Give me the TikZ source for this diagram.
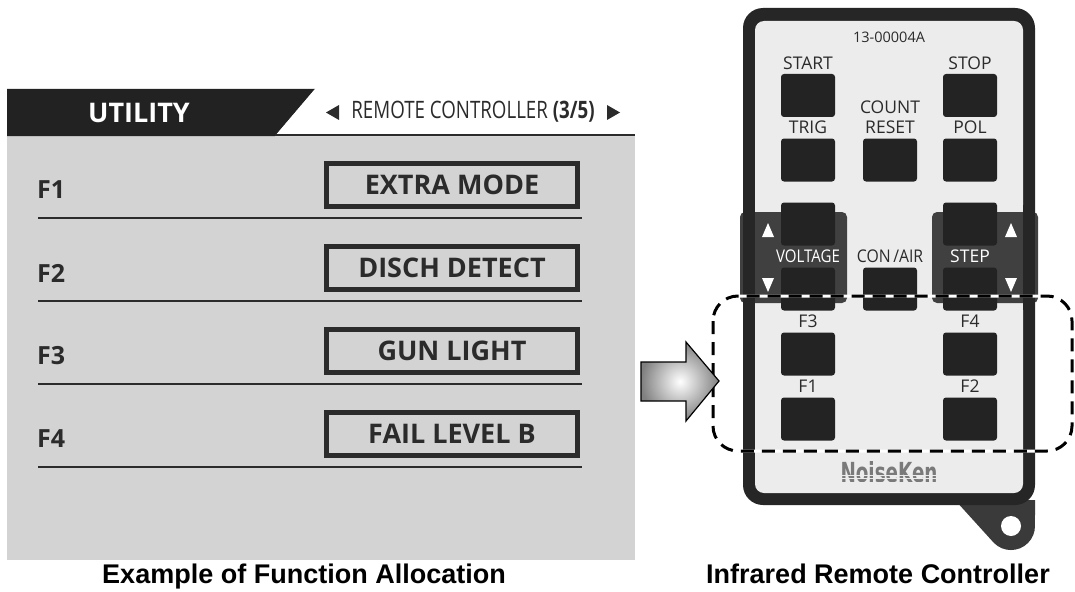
\documentclass[tikz,border=0pt]{standalone}
\usepackage{fontspec}
\setmainfont{Liberation Sans}
\newfontfamily\panelfont{Open Sans}
\newfontfamily\logofont{DejaVu Sans Condensed}
\definecolor{screengray}{HTML}{D3D3D3}
\definecolor{barblack}{HTML}{222222}
\definecolor{inkgray}{HTML}{2B2B2B}
\definecolor{bodydark}{HTML}{262626}
\definecolor{bodylight}{HTML}{ECECEC}
\definecolor{tabgray}{HTML}{3A3A3A}
\definecolor{keydark}{HTML}{232323}
\definecolor{sidegray}{HTML}{404040}
\definecolor{logogray}{HTML}{7A7A7A}

\begin{document}
\begin{tikzpicture}[x=1pt, y=-1pt,
	btn/.style={fill=keydark, rounded corners=3pt, minimum width=54pt, minimum height=43pt, inner sep=0pt},
	keylbl/.style={font=\panelfont\fontsize{17.5}{20}\selectfont, text=inkgray, anchor=base, inner sep=0pt},
	fnbox/.style={draw=inkgray, line width=5pt, minimum width=251pt, minimum height=43pt, inner sep=0pt, font=\panelfont\bfseries\fontsize{27}{30}\selectfont, text=inkgray},
	fnlbl/.style={font=\panelfont\bfseries\fontsize{25}{28}\selectfont, text=inkgray, anchor=west, inner sep=0pt},
	caption/.style={font=\bfseries\fontsize{27}{32}\selectfont, anchor=base, inner sep=0pt}]
	\useasboundingbox (0,0) rectangle (1075,591);
	\fill[white] (0,0) rectangle (1075,591);

	\fill[screengray] (7,89) rectangle (635,560);
	\fill[barblack] (7,89) -- (315,89) -- (275,136) -- (7,136) -- cycle;
	\fill[white] (315,89) -- (635,89) -- (635,136) -- (275,136) -- cycle;
	\draw[inkgray, line width=2pt] (275,135) -- (635,135);
	\node[font=\panelfont\bfseries\fontsize{27}{30}\selectfont, text=white, inner sep=0pt] (util) at (139,113) {UTILITY};
	\node[font=\panelfont\fontsize{24}{28}\selectfont, text=inkgray, inner sep=0pt] (hdr) at (473,112) {\scalebox{0.78}[1]{REMOTE CONTROLLER {\bfseries(3/5)}}};
	\fill[inkgray] (326,112.5) -- (339,105) -- (339,120) -- cycle;
	\fill[inkgray] (620,112.5) -- (607,105) -- (607,120) -- cycle;
	\foreach \f/\t [count=\i from 0] in {F1/EXTRA MODE, F2/DISCH DETECT, F3/GUN LIGHT, F4/FAIL LEVEL B}{
		\node[fnlbl] (fn\i) at (37,{190+83*\i}) {\f};
		\node[fnbox] (box\i) at (452,{185+83*\i}) {\t};
		\draw[inkgray, line width=1.5pt] (38,{218+83*\i}) -- (582,{218+83*\i});
	}

	\fill[tabgray] (955,500) -- (994,543) arc[start angle=135, end angle=0, radius=24] -- (1035,500) -- cycle;
	\fill[white] (1011,526) circle[radius=10];
	\fill[bodydark, rounded corners=20pt] (743,8) rectangle (1035,505);
	\fill[bodylight, rounded corners=9pt] (755,21) rectangle (1023,493);
	\fill[sidegray, rounded corners=5pt] (740,212) rectangle (847,303);
	\fill[sidegray, rounded corners=5pt] (932,212) rectangle (1038,303);
	\fill[bodydark] (743,205) rectangle (755,310);
	\fill[bodydark] (1023,205) rectangle (1035,310);
	\foreach \x in {768,1011}{
		\fill[white] (\x-6,237) -- (\x+6,237) -- (\x,223) -- cycle;
		\fill[white] (\x-6,278) -- (\x+6,278) -- (\x,292) -- cycle;
	}
	\foreach \n/\x/\y in {start/808/95.5, stop/970/95.5, trig/808/160, reset/890/160, pol/970/160, vup/808/224, sup/970/224, vdn/808/289, conair/890/289, sdn/970/289, fthree/808/354, ffour/970/354, fone/808/419, ftwo/970/419}
		\node[btn] (k\n) at (\x,\y) {};
	\foreach \n/\t in {start/START, stop/STOP, trig/TRIG, reset/RESET, pol/POL, fthree/F3, ffour/F4, fone/F1, ftwo/F2}
		\node[keylbl] (l\n) at ([yshift=4.5pt]k\n.north) {\t};
	\node[keylbl] (lcount) at ([yshift=24.5pt]kreset.north) {COUNT};
	\node[keylbl] (lconair) at ([yshift=4.5pt]kconair.north) {\scalebox{0.9}[1]{CON\,/AIR}};
	\node[keylbl, text=white] (lvolt) at ([yshift=4.5pt]kvdn.north) {\scalebox{0.86}[1]{VOLTAGE}};
	\node[keylbl, text=white] (lstep) at ([yshift=4.5pt]ksdn.north) {STEP};
	\node[font=\panelfont\fontsize{14.5}{16}\selectfont, text=inkgray, inner sep=0pt] (model) at (889,37) {13-00004A};
	\node[text=logogray, inner sep=0pt] (logo) at (889,472) {\resizebox{97pt}{21pt}{\logofont\bfseries NoiseKen}};
	\foreach \s in {475,478.5,482}
		\draw[bodylight, line width=0.7pt] (835,\s) -- (943,\s);

	\draw[white, line width=3pt, rounded corners=25pt] (713,296) rectangle (1072,451);
	\draw[black, line width=3pt, dash pattern=on 13pt off 8pt, rounded corners=25pt] (713,296) rectangle (1072,451);
	\shadedraw[draw=black, line width=1.2pt, inner color=white, outer color=black!50] (641,362) -- (686,362) -- (686,342) -- (719,381) -- (686,421) -- (686,401) -- (641,401) -- cycle;

	\node[caption] (capl) at (304,583) {Example of Function Allocation};
	\node[caption] (capr) at (878,583) {Infrared Remote Controller};
\end{tikzpicture}
\end{document}
